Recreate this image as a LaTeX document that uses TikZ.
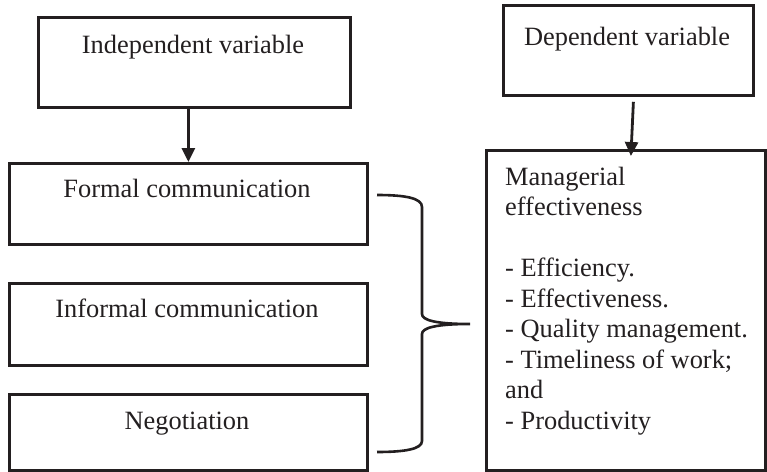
\documentclass[tikz,border=0pt]{standalone}
\usepackage{fontspec}
\setmainfont{Liberation Serif}
\usetikzlibrary{arrows.meta}
\definecolor{ink}{RGB}{35,31,32}
\tikzset{
  boxline/.style={draw=ink, line width=2.8pt, rectangle, inner sep=0pt, anchor=north west},
  lbl/.style={inner sep=0pt, text=ink, font=\fontsize{26.4}{30.5}\selectfont},
  arr/.style={draw=ink, line width=2.8pt, -{Triangle[length=14pt,width=13pt]}},
  bracel/.style={draw=ink, line width=2.6pt},
}
\begin{document}
\begin{tikzpicture}[x=1pt,y=-1pt]
\useasboundingbox (0,0) rectangle (767,471);
% boxes
\node[boxline, minimum width=312pt, minimum height=90pt] (ind) at (37,16) {};
\node[boxline, minimum width=250pt, minimum height=90pt] (dep) at (502,4) {};
\node[boxline, minimum width=358pt, minimum height=81pt] (formal) at (8,162) {};
\node[boxline, minimum width=358pt, minimum height=82pt] (informal) at (8,282) {};
\node[boxline, minimum width=358pt, minimum height=76pt] (nego) at (8,393) {};
\node[boxline, minimum width=279pt, minimum height=320pt] (man) at (485,149) {};
% labels
\node[lbl, anchor=base] (tind) at (193,53) {Independent variable};
\node[lbl, anchor=base] (tdep) at (627,45) {Dependent variable};
\node[lbl, anchor=base] (tformal) at (187,197) {Formal communication};
\node[lbl, anchor=base] (tinformal) at (187,317) {Informal communication};
\node[lbl, anchor=base] (tnego) at (187,429) {Negotiation};
\node[lbl, anchor=base west, align=left] (tman) at (505,429) {Managerial\\effectiveness\\[30.5pt]- Efficiency.\\- Effectiveness.\\- Quality management.\\- Timeliness of work;\\and\\- Productivity};
% arrows
\draw[arr] (formal.north |- ind.south) -- (formal.north);
\draw[arr] ([xshift=5pt,yshift=-5pt]dep.south) -- ([xshift=5pt,yshift=-7pt]man.north);
% brace
\coordinate (btop) at (377,195);
\coordinate (btip) at (470,324);
\coordinate (bbot) at (377,452);
\draw[bracel] (btop) .. controls (405,195) and (422,198) .. (422,207) -- (422,314)
  .. controls (422,320) and (435,324) .. (btip)
  .. controls (435,324) and (422,328) .. (422,334) -- (422,441)
  .. controls (422,449) and (405,452) .. (bbot);
\end{tikzpicture}
\end{document}
